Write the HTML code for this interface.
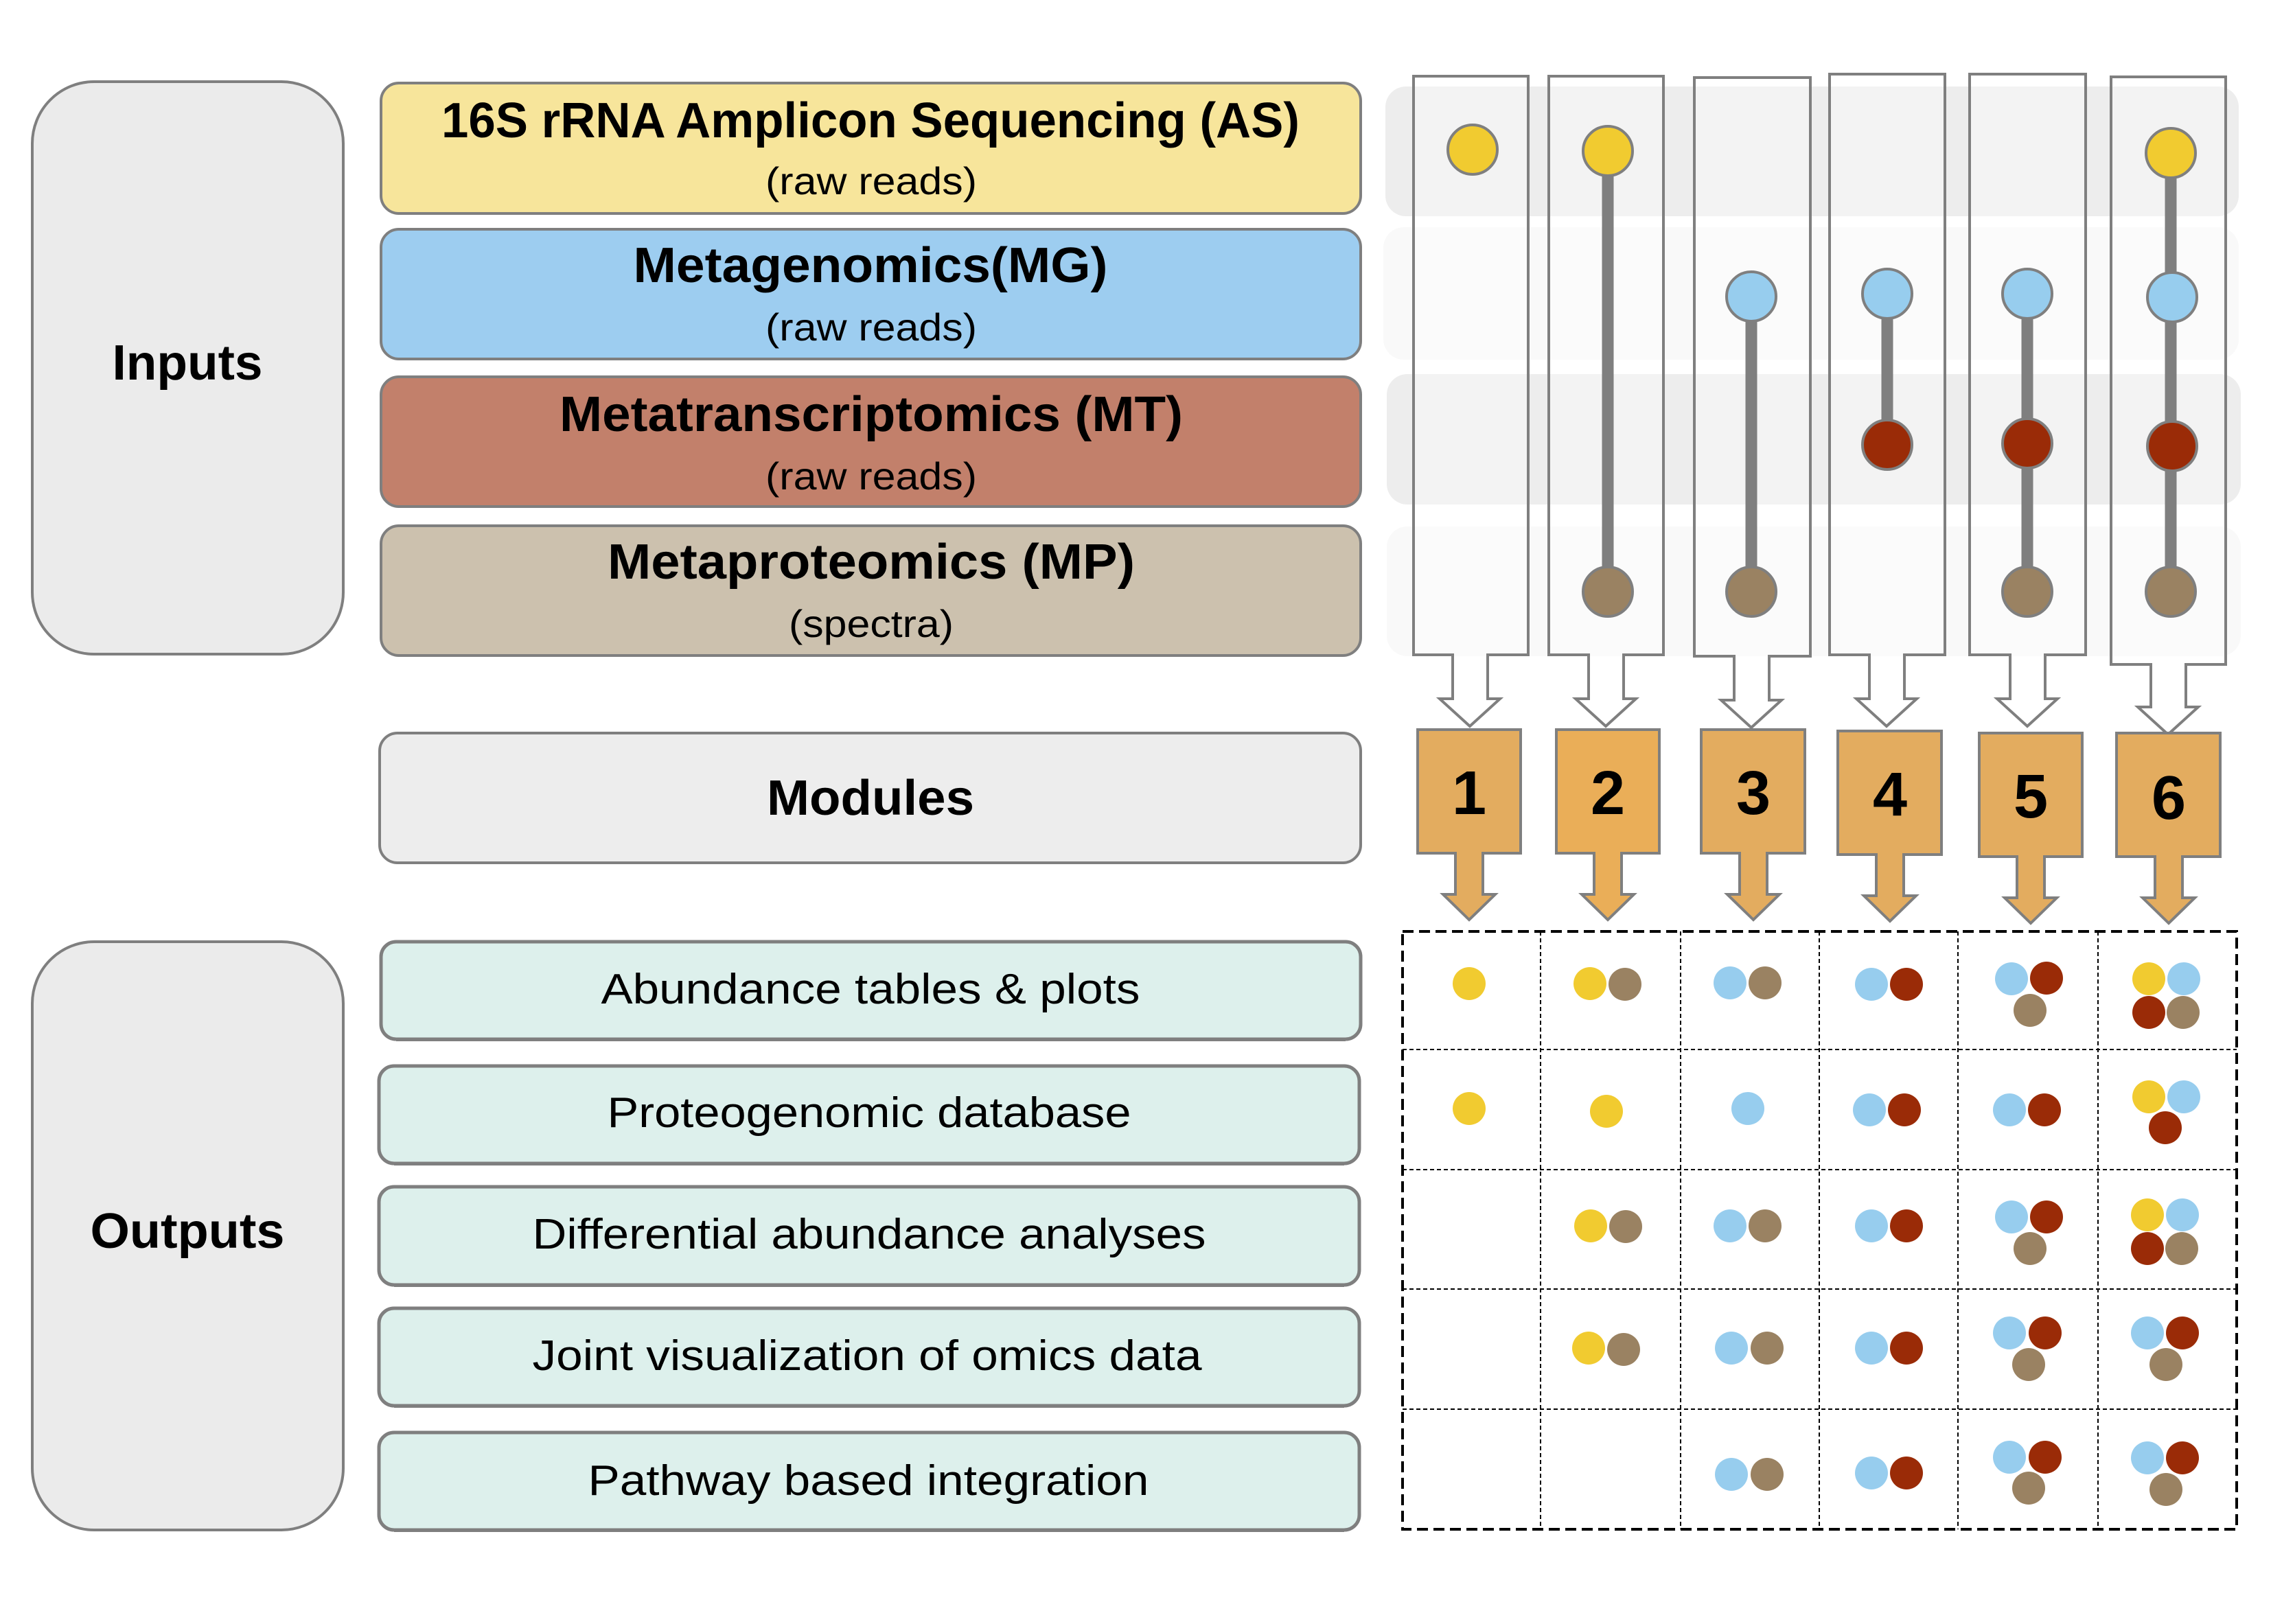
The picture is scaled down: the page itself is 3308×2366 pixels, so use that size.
<!DOCTYPE html>
<html><head><meta charset="utf-8"><style>html,body{margin:0;padding:0;background:#fff}svg{display:block}</style></head>
<body>
<svg width="3308" height="2366" viewBox="0 0 3308 2366" xmlns="http://www.w3.org/2000/svg" font-family="'Liberation Sans', sans-serif">
<rect width="3308" height="2366" fill="#fff"/>
<!-- big side boxes -->
<rect x="47" y="119" width="453" height="834" rx="90" fill="#EBEBEB" stroke="#7f7f7f" stroke-width="4"/>
<rect x="47" y="1372" width="453" height="857" rx="90" fill="#EBEBEB" stroke="#7f7f7f" stroke-width="4"/>
<text x="273" y="553" font-size="72" font-weight="bold" text-anchor="middle" textLength="219" lengthAdjust="spacingAndGlyphs">Inputs</text>
<text x="273" y="1818" font-size="72" font-weight="bold" text-anchor="middle" textLength="283" lengthAdjust="spacingAndGlyphs">Outputs</text>
<!-- input boxes -->
<g stroke="#7f7f7f" stroke-width="4">
<rect x="555" y="121" width="1427" height="190" rx="26" fill="#F7E59B"/>
<rect x="555" y="334" width="1427" height="189" rx="26" fill="#9DCDF0"/>
<rect x="555" y="549" width="1427" height="189" rx="26" fill="#C2806B"/>
<rect x="555" y="766" width="1427" height="189" rx="26" fill="#CCC1AE"/>
<rect x="553" y="1068" width="1429" height="189" rx="26" fill="#EDEDED"/>
</g>
<g font-weight="bold" font-size="72" text-anchor="middle">
<text x="1268" y="200" textLength="1250" lengthAdjust="spacingAndGlyphs">16S rRNA Amplicon Sequencing (AS)</text>
<text x="1268" y="411" textLength="691" lengthAdjust="spacingAndGlyphs">Metagenomics(MG)</text>
<text x="1269" y="628" textLength="908" lengthAdjust="spacingAndGlyphs">Metatranscriptomics (MT)</text>
<text x="1269" y="843" textLength="768" lengthAdjust="spacingAndGlyphs">Metaproteomics (MP)</text>
<text x="1268" y="1187" textLength="302" lengthAdjust="spacingAndGlyphs">Modules</text>
</g>
<g font-size="56" text-anchor="middle">
<text x="1269" y="283" textLength="308" lengthAdjust="spacingAndGlyphs">(raw reads)</text>
<text x="1269" y="496" textLength="308" lengthAdjust="spacingAndGlyphs">(raw reads)</text>
<text x="1269" y="713" textLength="308" lengthAdjust="spacingAndGlyphs">(raw reads)</text>
<text x="1269" y="928" textLength="240" lengthAdjust="spacingAndGlyphs">(spectra)</text>
</g>
<!-- output boxes -->
<g stroke="#7f7f7f" stroke-width="5" fill="#DDF0EC">
<rect x="555" y="1372" width="1427" height="142" rx="22"/>
<rect x="552" y="1553" width="1428" height="142" rx="22"/>
<rect x="552" y="1729" width="1428" height="143" rx="22"/>
<rect x="552" y="1906" width="1428" height="142" rx="22"/>
<rect x="552" y="2087" width="1428" height="142" rx="22"/>
</g>
<g stroke="#7f7f7f" stroke-width="4">
<line x1="577" y1="1515" x2="1960" y2="1515"/><line x1="574" y1="1696" x2="1958" y2="1696"/><line x1="574" y1="1873" x2="1958" y2="1873"/><line x1="574" y1="2049" x2="1958" y2="2049"/><line x1="574" y1="2230" x2="1958" y2="2230"/>
</g>
<g font-size="62" text-anchor="middle">
<text x="1268" y="1462" textLength="785" lengthAdjust="spacingAndGlyphs">Abundance tables &amp; plots</text>
<text x="1266" y="1642" textLength="763" lengthAdjust="spacingAndGlyphs">Proteogenomic database</text>
<text x="1266" y="1819" textLength="981" lengthAdjust="spacingAndGlyphs">Differential abundance analyses</text>
<text x="1263" y="1996" textLength="975" lengthAdjust="spacingAndGlyphs">Joint visualization of omics data</text>
<text x="1265" y="2178" textLength="817" lengthAdjust="spacingAndGlyphs">Pathway based integration</text>
</g>
<!-- bands -->
<rect x="2018" y="126" width="1243" height="189" rx="30" fill="#EDEDED"/>
<rect x="2015" y="331" width="1246" height="193" rx="30" fill="#F9F9F9"/>
<rect x="2020" y="545" width="1244" height="190" rx="30" fill="#EDEDED"/>
<rect x="2020" y="767" width="1244" height="189" rx="30" fill="#F9F9F9"/>
<!-- column shapes -->
<g fill="#fff" fill-opacity="0.35" stroke="#7f7f7f" stroke-width="4" stroke-linejoin="miter">
<path d="M2059 111 H2226 V954 H2167 V1018 H2185 L2141 1058 L2097 1018 H2116 V954 H2059 Z"/>
<path d="M2256 111 H2423 V954 H2365 V1018 H2383 L2339 1058 L2295 1018 H2314 V954 H2256 Z"/>
<path d="M2468 113 H2637 V956 H2577 V1020 H2595 L2551 1060 L2507 1020 H2526 V956 H2468 Z"/>
<path d="M2665 108 H2833 V954 H2774 V1018 H2792 L2748 1058 L2704 1018 H2723 V954 H2665 Z"/>
<path d="M2869 108 H3038 V954 H2979 V1018 H2997 L2953 1058 L2909 1018 H2928 V954 H2869 Z"/>
<path d="M3075 112 H3242 V968 H3184 V1030 H3202 L3158 1070 L3114 1030 H3133 V968 H3075 Z"/>
</g>
<!-- connector lines -->
<g stroke="#7f7f7f" stroke-width="17">
<line x1="2342" y1="218" x2="2342" y2="862"/>
<line x1="2551" y1="430" x2="2551" y2="862"/>
<line x1="2749" y1="430" x2="2749" y2="648"/>
<line x1="2953" y1="430" x2="2953" y2="862"/>
<line x1="3162" y1="223" x2="3162" y2="862"/>
</g>
<g stroke="#7f7f7f" stroke-width="4">
<circle cx="2145" cy="218" r="36" fill="#F1CB30"/>
<circle cx="2342" cy="220" r="36" fill="#F1CB30"/>
<circle cx="2342" cy="862" r="36" fill="#9A8262"/>
<circle cx="2551" cy="432" r="36" fill="#97CDEE"/>
<circle cx="2551" cy="862" r="36" fill="#9A8262"/>
<circle cx="2749" cy="428" r="36" fill="#97CDEE"/>
<circle cx="2749" cy="648" r="36" fill="#9A2B07"/>
<circle cx="2953" cy="428" r="36" fill="#97CDEE"/>
<circle cx="2953" cy="646" r="36" fill="#9A2B07"/>
<circle cx="2953" cy="862" r="36" fill="#9A8262"/>
<circle cx="3162" cy="223" r="36" fill="#F1CB30"/>
<circle cx="3164" cy="433" r="36" fill="#97CDEE"/>
<circle cx="3164" cy="650" r="36" fill="#9A2B07"/>
<circle cx="3162" cy="862" r="36" fill="#9A8262"/>
</g>
<!-- orange module boxes -->
<g stroke="#7f7f7f" stroke-width="4" fill="#E3AC5F">
<path d="M2065 1063 H2215 V1243 H2160 V1303 H2178 L2140 1340 L2102 1303 H2120 V1243 H2065 Z"/>
<path d="M2267 1063 H2417 V1243 H2362 V1303 H2380 L2342 1340 L2304 1303 H2322 V1243 H2267 Z" fill="#EAAE58"/>
<path d="M2478 1063 H2629 V1243 H2574 V1303 H2592 L2554 1340 L2516 1303 H2534 V1243 H2478 Z"/>
<path d="M2677 1065 H2828 V1245 H2773 V1305 H2791 L2753 1342 L2715 1305 H2733 V1245 H2677 Z"/>
<path d="M2883 1068 H3033 V1248 H2978 V1308 H2996 L2958 1345 L2920 1308 H2938 V1248 H2883 Z"/>
<path d="M3083 1068 H3234 V1248 H3179 V1308 H3197 L3159 1345 L3121 1308 H3139 V1248 H3083 Z"/>
</g>
<g font-size="90" font-weight="bold" text-anchor="middle">
<text x="2140" y="1186">1</text><text x="2342" y="1186">2</text><text x="2554" y="1186">3</text><text x="2753" y="1188">4</text><text x="2958" y="1191">5</text><text x="3159" y="1193">6</text>
</g>
<!-- grid -->
<g stroke="#000" stroke-width="2" stroke-dasharray="6 4" fill="none">
<line x1="2244" y1="1357" x2="2244" y2="2228"/><line x1="2448" y1="1357" x2="2448" y2="2228"/><line x1="2650" y1="1357" x2="2650" y2="2228"/><line x1="2852" y1="1357" x2="2852" y2="2228"/><line x1="3056" y1="1357" x2="3056" y2="2228"/>
<line x1="2043" y1="1529" x2="3258" y2="1529"/><line x1="2043" y1="1704" x2="3258" y2="1704"/><line x1="2043" y1="1878" x2="3258" y2="1878"/><line x1="2043" y1="2053" x2="3258" y2="2053"/>
</g>
<rect x="2043" y="1357" width="1215" height="871" fill="none" stroke="#000" stroke-width="4" stroke-dasharray="16 8"/>
<!-- grid dots -->
<g>
<!-- row1 y 1433 -->
<circle cx="2140" cy="1433" r="24" fill="#F1CB30"/>
<circle cx="2316" cy="1433" r="24" fill="#F1CB30"/><circle cx="2367" cy="1434" r="24" fill="#9A8262"/>
<circle cx="2520" cy="1432" r="24" fill="#97CDEE"/><circle cx="2571" cy="1432" r="24" fill="#97CDEE" opacity="0"/><circle cx="2571" cy="1432" r="24" fill="#9A8262"/>
<circle cx="2726" cy="1434" r="24" fill="#97CDEE"/><circle cx="2777" cy="1434" r="24" fill="#9A2B07"/>
<circle cx="2930" cy="1426" r="24" fill="#97CDEE"/><circle cx="2981" cy="1425" r="24" fill="#9A2B07"/><circle cx="2957" cy="1472" r="24" fill="#9A8262"/>
<circle cx="3130" cy="1426" r="24" fill="#F1CB30"/><circle cx="3181" cy="1426" r="24" fill="#97CDEE"/><circle cx="3130" cy="1475" r="24" fill="#9A2B07"/><circle cx="3180" cy="1475" r="24" fill="#9A8262"/>
<!-- row2 -->
<circle cx="2140" cy="1615" r="24" fill="#F1CB30"/>
<circle cx="2340" cy="1619" r="24" fill="#F1CB30"/>
<circle cx="2546" cy="1615" r="24" fill="#97CDEE"/>
<circle cx="2723" cy="1617" r="24" fill="#97CDEE"/><circle cx="2774" cy="1617" r="24" fill="#9A2B07"/>
<circle cx="2927" cy="1617" r="24" fill="#97CDEE"/><circle cx="2978" cy="1617" r="24" fill="#9A2B07"/>
<circle cx="3130" cy="1598" r="24" fill="#F1CB30"/><circle cx="3181" cy="1598" r="24" fill="#97CDEE"/><circle cx="3154" cy="1643" r="24" fill="#9A2B07"/>
<!-- row3 -->
<circle cx="2317" cy="1786" r="24" fill="#F1CB30"/><circle cx="2368" cy="1787" r="24" fill="#9A8262"/>
<circle cx="2520" cy="1786" r="24" fill="#97CDEE"/><circle cx="2571" cy="1786" r="24" fill="#9A8262"/>
<circle cx="2726" cy="1786" r="24" fill="#97CDEE"/><circle cx="2777" cy="1786" r="24" fill="#9A2B07"/>
<circle cx="2930" cy="1773" r="24" fill="#97CDEE"/><circle cx="2981" cy="1773" r="24" fill="#9A2B07"/><circle cx="2957" cy="1819" r="24" fill="#9A8262"/>
<circle cx="3128" cy="1770" r="24" fill="#F1CB30"/><circle cx="3179" cy="1770" r="24" fill="#97CDEE"/><circle cx="3128" cy="1819" r="24" fill="#9A2B07"/><circle cx="3178" cy="1819" r="24" fill="#9A8262"/>
<!-- row4 -->
<circle cx="2314" cy="1964" r="24" fill="#F1CB30"/><circle cx="2365" cy="1966" r="24" fill="#9A8262"/>
<circle cx="2522" cy="1964" r="24" fill="#97CDEE"/><circle cx="2574" cy="1964" r="24" fill="#9A8262"/>
<circle cx="2726" cy="1964" r="24" fill="#97CDEE"/><circle cx="2777" cy="1964" r="24" fill="#9A2B07"/>
<circle cx="2927" cy="1942" r="24" fill="#97CDEE"/><circle cx="2979" cy="1942" r="24" fill="#9A2B07"/><circle cx="2955" cy="1988" r="24" fill="#9A8262"/>
<circle cx="3128" cy="1942" r="24" fill="#97CDEE"/><circle cx="3179" cy="1942" r="24" fill="#9A2B07"/><circle cx="3155" cy="1988" r="24" fill="#9A8262"/>
<!-- row5 -->
<circle cx="2522" cy="2148" r="24" fill="#97CDEE"/><circle cx="2574" cy="2148" r="24" fill="#9A8262"/>
<circle cx="2726" cy="2146" r="24" fill="#97CDEE"/><circle cx="2777" cy="2146" r="24" fill="#9A2B07"/>
<circle cx="2927" cy="2123" r="24" fill="#97CDEE"/><circle cx="2979" cy="2123" r="24" fill="#9A2B07"/><circle cx="2955" cy="2168" r="24" fill="#9A8262"/>
<circle cx="3128" cy="2124" r="24" fill="#97CDEE"/><circle cx="3179" cy="2124" r="24" fill="#9A2B07"/><circle cx="3155" cy="2170" r="24" fill="#9A8262"/>
</g>
</svg>
</body></html>
